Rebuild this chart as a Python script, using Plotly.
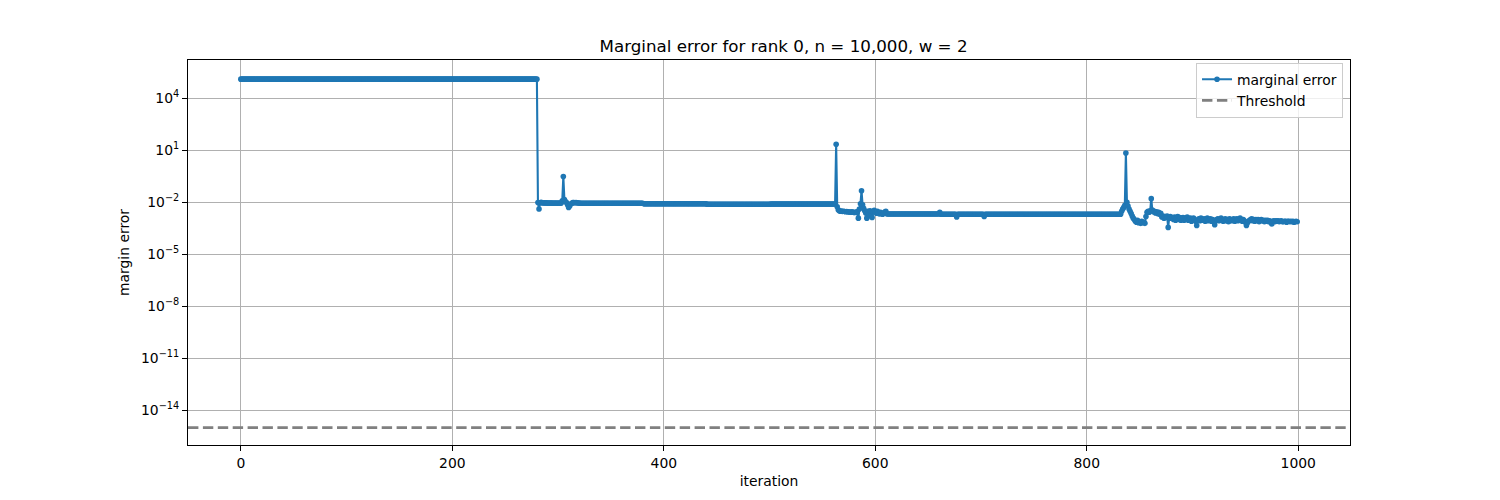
import plotly.graph_objects as go

# ---- data ----
plateau_1 = [1.25e5] * 281  # iterations 0-280

transient_1 = [  # iterations 281-320
    9.5e-3, 4.0e-3, 9.2e-3, 9.8e-3, 9.3e-3, 9.0e-3, 9.2e-3, 8.9e-3, 9.1e-3, 9.0e-3,
    8.8e-3, 9.0e-3, 8.9e-3, 8.8e-3, 9.0e-3, 8.7e-3, 8.9e-3, 8.8e-3, 8.7e-3, 8.9e-3,
    8.8e-3, 8.7e-3, 9.0e-3, 1.2e-2, 3.0e-1, 1.4e-2, 1.1e-2, 9.5e-3, 7.0e-3, 5.0e-3,
    6.0e-3, 7.8e-3, 8.6e-3, 9.4e-3, 9.6e-3, 9.3e-3, 9.5e-3, 9.2e-3, 9.0e-3, 8.9e-3,
]

plateau_2 = [8.6e-3] * 60 + [8.0e-3] * 60 + [7.6e-3] * 60 + [7.8e-3] * 62  # 321-562

transient_2 = [  # iterations 563-610
    22.0, 5.5e-3, 3.6e-3, 3.2e-3, 3.0e-3, 3.1e-3, 2.9e-3, 3.0e-3, 2.9e-3, 2.8e-3,
    2.9e-3, 2.8e-3, 2.7e-3, 2.7e-3, 2.6e-3, 2.8e-3, 2.6e-3, 2.5e-3, 2.6e-3, 2.5e-3,
    2.9e-3, 1.2e-3, 4.0e-3, 8.0e-3, 4.5e-2, 7.0e-3, 4.5e-3, 3.2e-3, 2.4e-3, 1.2e-3,
    3.0e-3, 2.2e-3, 3.2e-3, 1.6e-3, 1.3e-3, 2.8e-3, 3.4e-3, 2.6e-3, 2.3e-3, 3.0e-3,
    2.4e-3, 2.1e-3, 2.6e-3, 2.2e-3, 2.0e-3, 2.3e-3, 2.7e-3, 3.0e-3,
]

plateau_3 = ([2.1e-3] * 50 + [2.6e-3] + [2.0e-3] * 15 + [1.4e-3]
             + [2.0e-3] * 25 + [1.5e-3] + [2.0e-3] * 129)  # 611-832

transient_3 = [  # iterations 833-880
    3.0e-3, 4.0e-3, 5.0e-3, 6.5e-3, 6.8, 1.0e-2, 6.0e-3, 4.0e-3, 3.0e-3, 2.2e-3,
    1.6e-3, 1.2e-3, 1.0e-3, 8.0e-4, 7.0e-4, 9.0e-4, 6.5e-4, 7.5e-4, 6.0e-4, 8.0e-4,
    6.5e-4, 7.0e-4, 6.0e-4, 1.5e-3, 2.6e-3, 3.0e-3, 2.6e-3, 3.2e-3, 1.6e-2, 3.5e-3,
    2.8e-3, 3.0e-3, 2.4e-3, 2.8e-3, 2.2e-3, 2.6e-3, 2.0e-3, 2.3e-3, 1.4e-3, 1.6e-3,
    1.2e-3, 1.5e-3, 1.3e-3, 1.6e-3, 3.5e-4, 1.3e-3, 1.5e-3, 1.2e-3,
]

tail = [  # iterations 881-999
    1.3e-3, 1.0e-3, 1.4e-3, 9.0e-4, 1.2e-3, 1.5e-3, 1.0e-3, 1.3e-3, 9.0e-4, 1.2e-3,
    1.3e-3, 9.0e-4, 1.2e-3, 1.0e-3, 1.4e-3, 9.0e-4, 1.1e-3, 1.2e-3, 8.0e-4, 1.1e-3,
    1.2e-3, 1.0e-3, 8.0e-4, 4.5e-4, 9.0e-4, 1.1e-3, 8.5e-4, 1.2e-3, 9.0e-4, 1.0e-3,
    1.1e-3, 8.0e-4, 1.0e-3, 1.2e-3, 8.5e-4, 1.0e-3, 1.1e-3, 8.0e-4, 1.0e-3, 7.5e-4,
    5.0e-4, 9.0e-4, 1.0e-3, 1.1e-3, 8.5e-4, 1.0e-3, 1.2e-3, 9.0e-4, 8.0e-4, 1.0e-3,
    1.1e-3, 8.5e-4, 1.0e-3, 7.5e-4, 1.1e-3, 1.0e-3, 8.5e-4, 1.0e-3, 1.1e-3, 8.0e-4,
    1.0e-3, 1.1e-3, 8.5e-4, 1.0e-3, 1.2e-3, 9.0e-4, 8.0e-4, 1.0e-3, 8.5e-4, 7.0e-4,
    4.5e-4, 6.5e-4, 8.0e-4, 9.0e-4, 1.0e-3, 1.1e-3, 8.5e-4, 1.0e-3, 8.0e-4, 1.0e-3,
    9.0e-4, 1.0e-3, 7.5e-4, 9.0e-4, 1.0e-3, 8.5e-4, 9.0e-4, 7.5e-4, 9.0e-4, 8.0e-4,
    9.0e-4, 7.5e-4, 8.5e-4, 7.0e-4, 5.5e-4, 8.0e-4, 8.5e-4, 7.5e-4, 8.5e-4, 8.0e-4,
    8.5e-4, 7.5e-4, 8.0e-4, 8.5e-4, 7.5e-4, 7.5e-4, 8.0e-4, 8.0e-4, 7.0e-4, 8.0e-4,
    8.0e-4, 7.5e-4, 8.0e-4, 7.5e-4, 8.0e-4, 7.0e-4, 7.5e-4, 8.0e-4, 7.5e-4,
]

margin_error = plateau_1 + transient_1 + plateau_2 + transient_2 + plateau_3 + transient_3 + tail
iterations = list(range(len(margin_error)))
threshold = 1e-15

x_ticks = [0, 200, 400, 600, 800, 1000]
y_tick_exponents = [-14, -11, -8, -5, -2, 1, 4]
y_tick_labels = ["10<sup>\u2212" + str(-e) + "</sup>" if e < 0 else "10<sup>" + str(e) + "</sup>"
                 for e in y_tick_exponents]

title_text = "Marginal error for rank 0, n = 10,000, w = 2"

# ---- figure ----
x_range = [-49.95, 1048.95]
FONT = "DejaVu Sans"

fig = go.Figure()
fig.add_trace(go.Scatter(
    x=iterations, y=margin_error, mode="lines+markers", name="marginal error",
    line=dict(color="#1f77b4", width=2.1),
    marker=dict(color="#1f77b4", size=5.6, line=dict(width=0)),
))
fig.add_trace(go.Scatter(
    x=x_range, y=[threshold, threshold], mode="lines", name="Threshold",
    line=dict(color="#808080", width=2.8, dash="10.4px,4.5px"),
))

axis_common = dict(
    showline=True, linecolor="black", linewidth=1, mirror=True,
    ticks="outside", ticklen=5, tickwidth=1.1, tickcolor="black",
    showgrid=True, gridcolor="#b0b0b0", gridwidth=1.1, zeroline=False,
    tickfont=dict(family=FONT, size=13.9, color="black"),
)

fig.update_layout(
    width=1500, height=500,
    margin=dict(l=187.5, r=150, t=60, b=55, pad=0),
    paper_bgcolor="white", plot_bgcolor="white",
    font=dict(family=FONT, size=13.9, color="black"),
    title=dict(text=title_text, x=0.5125, xanchor="center", xref="paper",
               y=1 - 46 / 500, yanchor="middle", yref="container",
               font=dict(family=FONT, size=16.7, color="black")),
    xaxis=dict(axis_common, range=x_range, tickvals=x_ticks,
               title=dict(text="iteration", standoff=6, font=dict(family=FONT, size=13.9))),
    yaxis=dict(axis_common, type="log", range=[-16.005, 6.2],
               tickvals=[10.0 ** e for e in y_tick_exponents], ticktext=y_tick_labels,
               title=dict(text="margin error", standoff=8, font=dict(family=FONT, size=13.9))),
    legend=dict(x=0.994, y=0.993, xanchor="right", yanchor="top",
                bgcolor="rgba(255,255,255,0.8)", bordercolor="#cccccc", borderwidth=1,
                font=dict(family=FONT, size=13.9), tracegroupgap=0, itemwidth=30),
    showlegend=True,
)

fig.write_html("out.html", config={"displayModeBar": False},
               post_script="document.body.style.margin='0';document.body.style.overflow='hidden';")
